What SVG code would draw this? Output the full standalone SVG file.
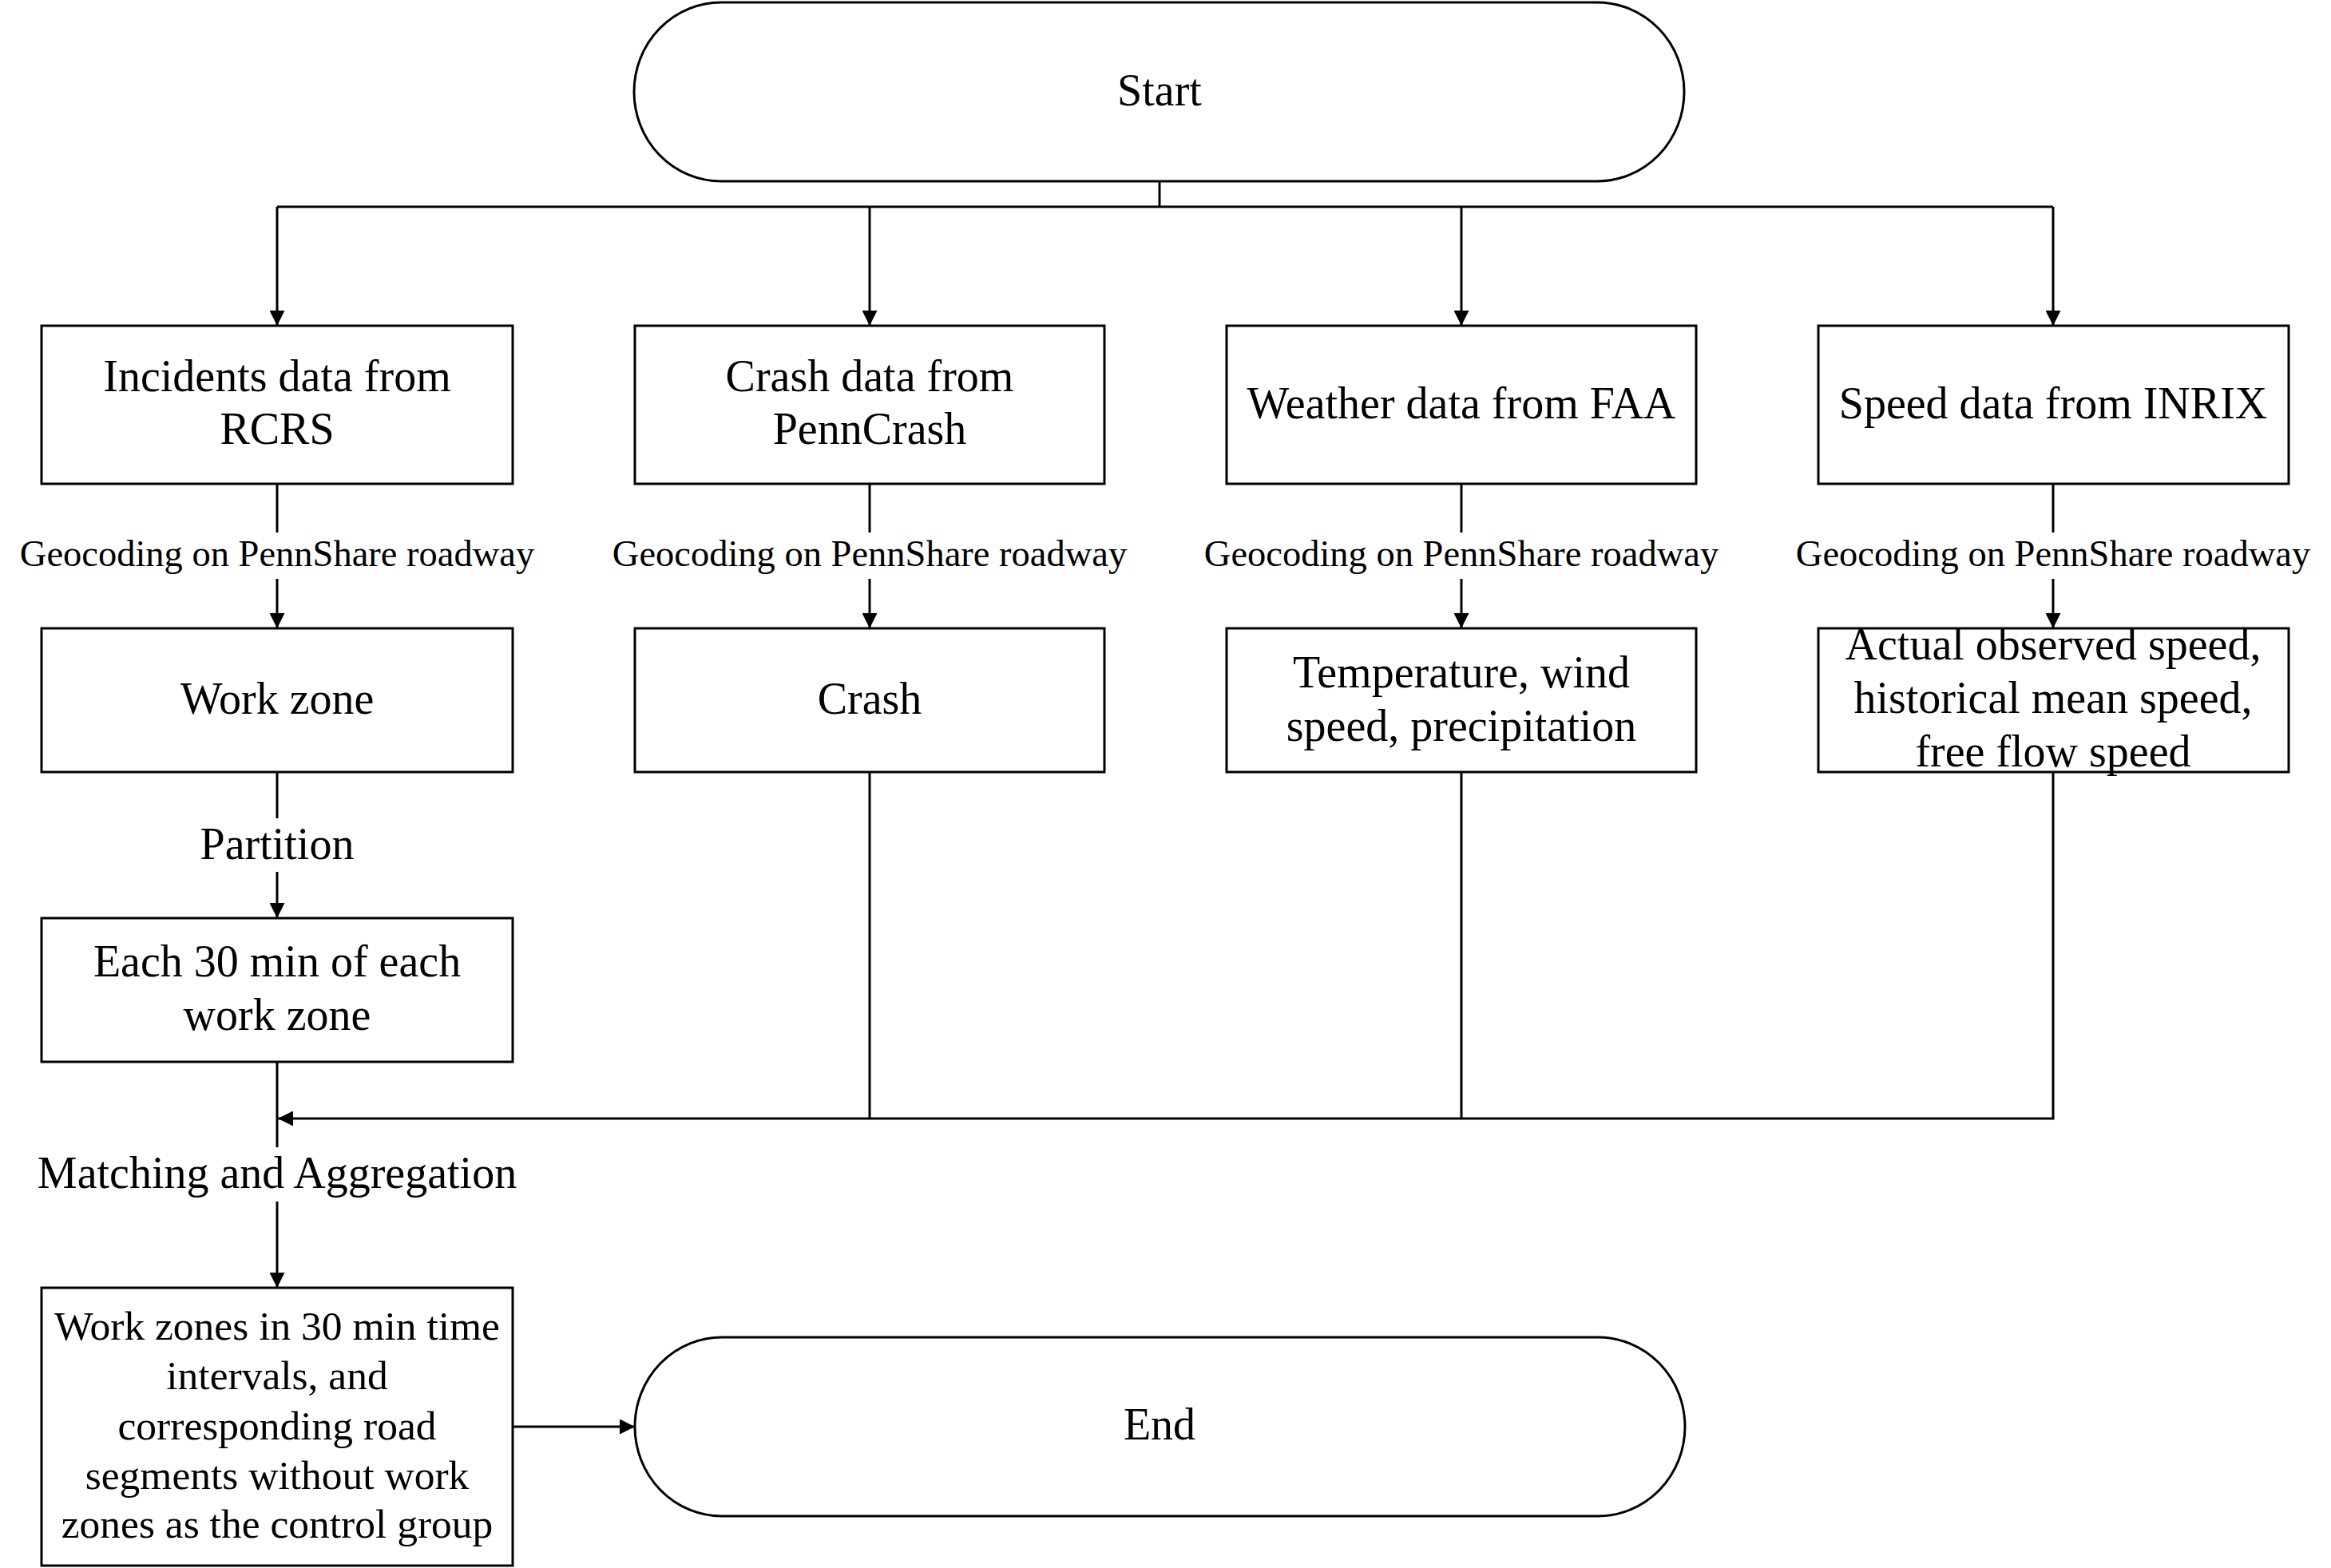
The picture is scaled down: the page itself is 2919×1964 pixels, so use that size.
<svg xmlns="http://www.w3.org/2000/svg" width="2919" height="1964" viewBox="0 0 2919 1964">
<style>
.bx{fill:#fff;stroke:#000;stroke-width:3}
.cap{fill:#fff;stroke:#000;stroke-width:3}
.ln{fill:none;stroke:#000;stroke-width:3}
.t{font-family:"Liberation Serif","Times New Roman",serif;font-size:56px;fill:#000;text-anchor:middle}
.s{font-size:46.5px}
.f{font-size:51.5px}
</style>
<defs>
<marker id="ah" markerUnits="userSpaceOnUse" markerWidth="19" markerHeight="19" refX="19" refY="9.5" orient="auto">
<path d="M0,0 L19,9.5 L0,19 Z" fill="#000"/>
</marker>
</defs>
<rect width="2919" height="1964" fill="#fff"/>
<g id="connectors">
<path class="ln" d="M1452,227 V259"/>
<path class="ln" d="M347,259 H2571"/>
<path class="ln" d="M347,259 V408" marker-end="url(#ah)"/>
<path class="ln" d="M1089,259 V408" marker-end="url(#ah)"/>
<path class="ln" d="M1830,259 V408" marker-end="url(#ah)"/>
<path class="ln" d="M2571,259 V408" marker-end="url(#ah)"/>
<path class="ln" d="M347,606 V667"/>
<path class="ln" d="M347,725 V787" marker-end="url(#ah)"/>
<path class="ln" d="M1089,606 V667"/>
<path class="ln" d="M1089,725 V787" marker-end="url(#ah)"/>
<path class="ln" d="M1830,606 V667"/>
<path class="ln" d="M1830,725 V787" marker-end="url(#ah)"/>
<path class="ln" d="M2571,606 V667"/>
<path class="ln" d="M2571,725 V787" marker-end="url(#ah)"/>
<path class="ln" d="M347,967 V1025"/>
<path class="ln" d="M347,1092 V1150" marker-end="url(#ah)"/>
<path class="ln" d="M347,1330 V1437"/>
<path class="ln" d="M1089,967 V1401"/>
<path class="ln" d="M1830,967 V1401"/>
<path class="ln" d="M2571,967 V1401 H348" marker-end="url(#ah)"/>
<path class="ln" d="M347,1505 V1613" marker-end="url(#ah)"/>
<path class="ln" d="M642,1787 H795" marker-end="url(#ah)"/>
<text class="t s" x="347" y="709">Geocoding on PennShare roadway</text>
<text class="t s" x="1089" y="709">Geocoding on PennShare roadway</text>
<text class="t s" x="1830" y="709">Geocoding on PennShare roadway</text>
<text class="t s" x="2571" y="709">Geocoding on PennShare roadway</text>
<text class="t" x="347" y="1076">Partition</text>
<text class="t" x="347" y="1488">Matching and Aggregation</text>
</g>
<g id="start">
<rect class="cap" x="794" y="3" width="1315" height="224" rx="109" ry="112"/>
<text class="t" x="1452" y="132">Start</text>
</g>
<g id="incidents">
<rect class="bx" x="52" y="408" width="590" height="198"/>
<text class="t" x="347" y="490">Incidents data from</text>
<text class="t" x="347" y="556">RCRS</text>
</g>
<g id="crashdata">
<rect class="bx" x="795" y="408" width="588" height="198"/>
<text class="t" x="1089" y="490">Crash data from</text>
<text class="t" x="1089" y="556">PennCrash</text>
</g>
<g id="weather">
<rect class="bx" x="1536" y="408" width="588" height="198"/>
<text class="t" x="1830" y="524">Weather data from FAA</text>
</g>
<g id="speed">
<rect class="bx" x="2277" y="408" width="589" height="198"/>
<text class="t" x="2571" y="524">Speed data from INRIX</text>
</g>
<g id="workzone">
<rect class="bx" x="52" y="787" width="590" height="180"/>
<text class="t" x="347" y="894">Work zone</text>
</g>
<g id="crash">
<rect class="bx" x="795" y="787" width="588" height="180"/>
<text class="t" x="1089" y="894">Crash</text>
</g>
<g id="temperature">
<rect class="bx" x="1536" y="787" width="588" height="180"/>
<text class="t" x="1830" y="861">Temperature, wind</text>
<text class="t" x="1830" y="928">speed, precipitation</text>
</g>
<g id="speeds">
<rect class="bx" x="2277" y="787" width="589" height="180"/>
<text class="t" x="2571" y="826">Actual observed speed,</text>
<text class="t" x="2571" y="893">historical mean speed,</text>
<text class="t" x="2571" y="960">free flow speed</text>
</g>
<g id="each30">
<rect class="bx" x="52" y="1150" width="590" height="180"/>
<text class="t" x="347" y="1223">Each 30 min of each</text>
<text class="t" x="347" y="1290">work zone</text>
</g>
<g id="result">
<rect class="bx" x="52" y="1613" width="590" height="348"/>
<text class="t f" x="347" y="1678">Work zones in 30 min time</text>
<text class="t f" x="347" y="1740">intervals, and</text>
<text class="t f" x="347" y="1803">corresponding road</text>
<text class="t f" x="347" y="1865">segments without work</text>
<text class="t f" x="347" y="1926">zones as the control group</text>
</g>
<g id="end">
<rect class="cap" x="795" y="1675" width="1315" height="224" rx="109" ry="112"/>
<text class="t" x="1452" y="1803">End</text>
</g>
</svg>
